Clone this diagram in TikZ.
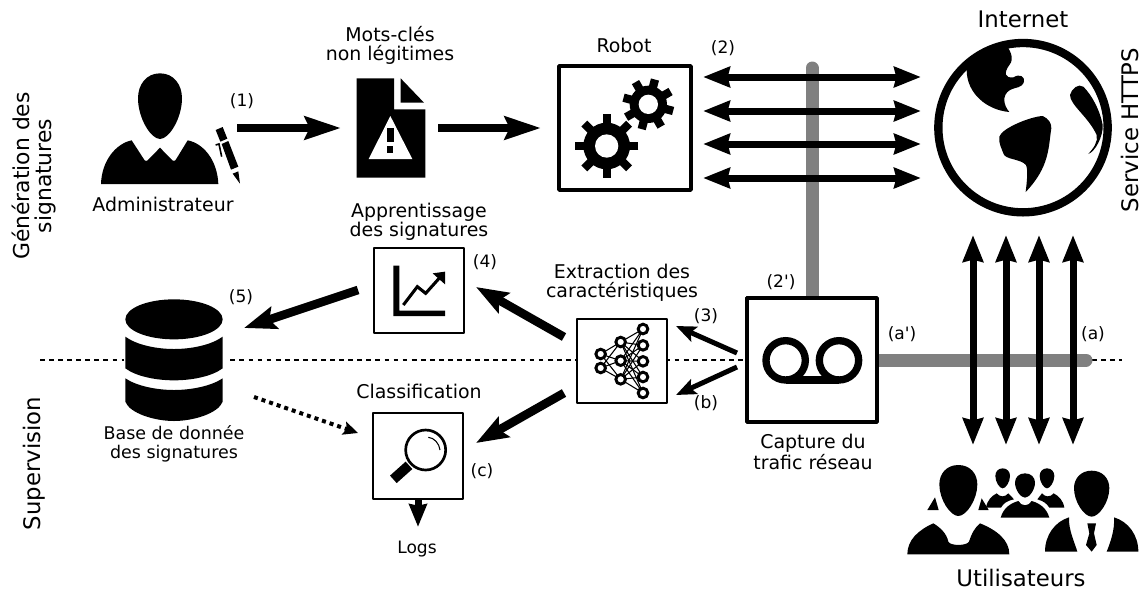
\documentclass[tikz,border=0pt]{standalone}
\usepackage{fontspec}
\setmainfont{DejaVu Sans}
\newfontfamily\plainfont{DejaVu Sans}
\usetikzlibrary{arrows.meta}
\definecolor{greyline}{RGB}{128,128,128}
\newcommand{\eggshape}[4]{%
  ({#1},{#2}) .. controls ({#1+.62*#4},{#2}) and ({#1+#4},{#2+.17*(#3-#2)}) .. ({#1+#4},{#2+.38*(#3-#2)})
  .. controls ({#1+#4},{#2+.68*(#3-#2)}) and ({#1+.42*#4},{#3}) .. ({#1},{#3})
  .. controls ({#1-.42*#4},{#3}) and ({#1-#4},{#2+.68*(#3-#2)}) .. ({#1-#4},{#2+.38*(#3-#2)})
  .. controls ({#1-#4},{#2+.17*(#3-#2)}) and ({#1-.62*#4},{#2}) .. ({#1},{#2}) -- cycle}
\newcommand{\geartool}[7]{%
  \foreach \a in {0,45,90,135}{%
    \draw[line width=#6*.25pt] ({#1+#3*cos(\a+#7)},{#2+#3*sin(\a+#7)}) -- ({#1-#3*cos(\a+#7)},{#2-#3*sin(\a+#7)});}
  \fill (#1,#2) circle[radius=#4*.25pt];
  \fill[white] (#1,#2) circle[radius=#5*.25pt];}
\tikzset{
  txt/.style={font=\fontsize{14.2}{14.2}\selectfont,align=center,inner sep=0pt},
  sml/.style={font=\fontsize{13.1}{14.6}\selectfont,align=center,inner sep=0pt},
  lab/.style={font=\plainfont\fontsize{12.8}{14}\selectfont,inner sep=0pt},
  bigt/.style={font=\fontsize{17.1}{19.5}\selectfont,align=center,inner sep=0pt},
  gent/.style={font=\fontsize{16.4}{16.5}\selectfont,align=center,inner sep=0pt},
  boxa/.style={draw=black,fill=white,line width=2.6pt,line join=round,inner sep=0pt},
  boxb/.style={draw=black,fill=white,line width=1.9pt,line join=round,inner sep=0pt},
  greypipe/.style={draw=greyline,line width=9.75pt},
  thickarrow/.style={line width=6.5pt,-{Stealth[length=27pt,width=17pt,inset=3.5pt]}},
  diagarrow/.style={line width=6.5pt,-{Stealth[length=24pt,width=17pt,inset=4pt]}},
  twoway/.style={line width=5.25pt,{Stealth[length=20pt,width=15pt,inset=1.5pt]}-{Stealth[length=20pt,width=15pt,inset=1.5pt]}},
  thinarrow/.style={line width=3.75pt,-{Stealth[length=15pt,width=12pt,inset=3pt]}},
  dottedarrow/.style={line width=3pt,dash pattern=on 3pt off 3pt,-{Stealth[length=11pt,width=10pt,inset=2pt]}},
  logsarrow/.style={line width=5.25pt,-{Stealth[length=17pt,width=13pt,inset=1pt]}},
  icon/.style={x=.25pt,y=-.25pt},
}
\begin{document}
\begin{tikzpicture}[x=.75pt,y=-.75pt]
\useasboundingbox (0,0) rectangle (1143,590);
\fill[white] (0,0) rectangle (1143,590);
% named connector ends
\coordinate (dashL) at (40,360);
\coordinate (dashR) at (1122,360);
\coordinate (vTop) at (812,68);
\coordinate (hEnd) at (1086,360);
\coordinate (a1s) at (237,128); \coordinate (a1e) at (341,128);
\coordinate (a2s) at (438,128); \coordinate (a2e) at (541,128);
\coordinate (a4s) at (564,337); \coordinate (a4e) at (476,287);
\coordinate (acs) at (564,393); \coordinate (ace) at (476,443);
\coordinate (a3s) at (737,353); \coordinate (a3e) at (676,326);
\coordinate (abs) at (737,367); \coordinate (abe) at (676,395);
\coordinate (a5s) at (358,290); \coordinate (a5e) at (244,328);
\coordinate (ads) at (254,397); \coordinate (ade) at (358,433);
\coordinate (lge) at (418,527);
% dashed separator
\draw[line width=1.5pt,dash pattern=on 3.6pt off 3.2pt] (dashL) -- (dashR);
\fill[white] (124,340) rectangle (226,400);
% grey pipes
\node[boxa,minimum width=97.5pt,minimum height=93pt] (capture) at (812,360) {};
\draw[greypipe,line cap=round] (vTop) -- (capture.north);
\draw[greypipe,line cap=round] (hEnd) -- (capture.east);
\node[boxa,minimum width=97.5pt,minimum height=93pt] (capture) at (812,360) {};
% boxes
\node[boxa,minimum width=99pt,minimum height=93pt] (robot) at (625,128) {};
\node[boxb,minimum width=67.5pt,minimum height=63pt] (extract) at (622,361) {};
\node[boxb,minimum width=67.5pt,minimum height=63.75pt] (chart) at (419,290.5) {};
\node[boxb,minimum width=67.5pt,minimum height=64.5pt] (magnify) at (418,456) {};
% admin
\begin{scope}[shift={(80,60)},icon]
\fill \eggshape{240}{40}{237}{66};
\fill (63,372) .. controls (65,300) and (110,250) .. (155,241) -- (190,295) .. controls (195,305) and (200,305) .. (207,297) -- (240,263) -- (273,297) .. controls (280,305) and (285,305) .. (290,295) -- (323,241) .. controls (370,250) and (412,300) .. (415,372) -- cycle;
\fill (407,210) -- (428,201) -- (442,236) -- (421,245) -- cycle;
\fill (425,252) -- (445,243) -- (475,320) -- (453,329) -- cycle;
\fill (458,341) -- (475,334) -- (480,371) -- cycle;
\draw[line width=1.2pt] (407,255) -- (417,252) -- (425,290);
% doc
\fill (830,55) -- (942,55) -- (942,148) -- (1036,148) -- (1036,353) -- (830,353) -- cycle;
\fill (962,55) -- (1032,128) -- (962,128) -- cycle;
\fill[white] (931,168) -- (997,297) -- (866,297) -- cycle;
\fill (921,204) rectangle (942,245);
\fill (921,258) rectangle (940,278);
\end{scope}
% gears
\begin{scope}[shift={(540,0)},icon]
\geartool{200}{438}{95}{70}{35}{25}{0}
\geartool{325}{313}{77}{56}{29}{25}{15}
\end{scope}
% globe
\begin{scope}[shift={(920,20)},icon]
\begin{scope}
\clip (309,323) circle[radius=63.5pt];
\fill (250,60) .. controls (270,90) and (285,115) .. (268,135) .. controls (250,160) and (255,175) .. (280,172) .. controls (300,160) and (315,170) .. (312,185) .. controls (305,205) and (290,200) .. (270,210) .. controls (245,225) and (250,255) .. (268,276) .. controls (200,270) and (140,220) .. (140,150) -- (100,60) -- cycle;
\end{scope}
\fill (238,350) .. controls (245,325) and (330,290) .. (368,288) .. controls (385,295) and (395,310) .. (394,325) .. controls (385,380) and (390,440) .. (317,516) .. controls (320,490) and (325,450) .. (318,435) .. controls (300,415) and (255,420) .. (250,400) .. controls (245,385) and (235,370) .. (238,350) -- cycle;
\fill (450,225) .. controls (455,205) and (475,190) .. (490,200) .. controls (515,225) and (540,270) .. (548,315) .. controls (550,350) and (525,395) .. (505,402) .. controls (520,385) and (535,365) .. (530,345) .. controls (505,290) and (450,255) .. (450,225) -- cycle;
\draw[line width=6.25pt] (309,323) circle[radius=63.5pt];
\end{scope}
% chart
\begin{scope}[shift={(360,240)},icon]
\fill (100,77) -- (118,77) -- (118,212) -- (255,212) -- (255,228) -- (100,228) -- cycle;
\draw[line width=2.3pt,line join=miter] (130,195) -- (172,140) -- (197,160) -- (240,112);
\fill (255,95) -- (218,100) -- (255,133) -- cycle;
% neural network
\foreach \ia/\ya in {722/342,722/384}{
  \foreach \ib/\yb in {782/306,782/362,782/418}{
    \draw[line width=.8pt] (\ia,\ya) -- (\ib,\yb);}}
\foreach \ib/\yb in {782/306,782/362,782/418}{
  \foreach \ic/\yc in {849/267,849/316,849/364,849/411,849/459}{
    \draw[line width=.8pt] (\ib,\yb) -- (\ic,\yc);}}
\foreach \ix/\yx in {722/342,722/384,782/306,782/362,782/418,849/267,849/316,849/364,849/411,849/459}{
  \draw[line width=2.2pt,fill=white] (\ix,\yx) circle[radius=3.6pt];}
\end{scope}
% tape
\begin{scope}[shift={(720,230)},icon]
\draw[line width=5.5pt] (197,391) circle[radius=14.75pt];
\draw[line width=5.5pt] (357,391) circle[radius=14.75pt];
\draw[line width=5.5pt] (197,450) -- (357,450);
\end{scope}
% magnifier
\begin{scope}[shift={(360,400)},icon]
\draw[line width=2pt] (197,150) circle[radius=15pt];
\draw[line width=.8pt] (205,112) .. controls (222,113) and (238,130) .. (240,150);
\draw[line width=7.5pt] (147,196) -- (100,238);
\end{scope}
% database
\begin{scope}[shift={(90,280)},icon]
\fill (252,118) ellipse[x radius=36.5pt,y radius=15pt];
\fill (106,170) .. controls (140,195) and (200,207) .. (252,207) .. controls (304,207) and (364,195) .. (398,170) -- (398,265) .. controls (364,290) and (304,301) .. (252,301) .. controls (200,301) and (140,290) .. (106,265) -- cycle;
\fill (106,295) .. controls (140,318) and (200,330) .. (252,330) .. controls (304,330) and (364,318) .. (398,295) -- (398,365) .. controls (385,400) and (310,423) .. (252,423) .. controls (194,423) and (119,400) .. (106,365) -- cycle;
\end{scope}
% users
\begin{scope}[shift={(890,440)},icon]
\fill \eggshape{205}{75}{228}{57};
\fill (112,210) -- (135,172) -- (146,210) -- cycle;
\fill (265,210) -- (275,175) -- (296,210) -- cycle;
\fill (52,343) .. controls (52,300) and (85,270) .. (130,250) .. controls (150,262) and (170,280) .. (175,305) .. controls (180,318) and (230,318) .. (237,305) .. controls (245,280) and (255,262) .. (270,250) .. controls (320,270) and (358,300) .. (358,343) -- cycle;
\fill \eggshape{605}{92}{230}{53};
\fill (465,335) .. controls (465,285) and (495,245) .. (537,232) .. controls (535,270) and (555,310) .. (562,335) -- cycle;
\fill (650,335) .. controls (660,310) and (675,270) .. (672,232) .. controls (715,245) and (745,285) .. (745,335) -- cycle;
\fill (592,250) -- (618,250) -- (612,280) -- (620,315) -- (605,335) -- (588,315) -- (598,280) -- cycle;
\fill \eggshape{405}{100}{173}{30};
\fill \eggshape{338}{85}{145}{22};
\fill \eggshape{471}{85}{145}{22};
\fill (332,233) .. controls (340,205) and (360,190) .. (385,183) .. controls (395,200) and (415,200) .. (425,183) .. controls (450,190) and (470,205) .. (478,233) -- cycle;
\fill (288,203) .. controls (292,180) and (305,168) .. (320,160) .. controls (330,172) and (345,172) .. (355,160) -- (372,178) .. controls (350,183) and (340,190) .. (333,203) -- cycle;
\fill (523,203) .. controls (519,180) and (506,168) .. (491,160) .. controls (481,172) and (466,172) .. (456,160) -- (442,178) .. controls (460,183) and (470,190) .. (478,203) -- cycle;
\end{scope}
% arrows
\draw[thickarrow] (a1s) -- (a1e);
\draw[thickarrow] (a2s) -- (a2e);
\foreach \yy/\nn in {77/a,111/b,144/c,178/d}{
  \coordinate (hl\nn) at (703,\yy); \coordinate (hr\nn) at (921,\yy);
  \draw[twoway] (hl\nn) -- (hr\nn);}
\foreach \xx/\nn in {973/a,1006/b,1039/c,1073/d}{
  \coordinate (vt\nn) at (\xx,235); \coordinate (vb\nn) at (\xx,445);
  \draw[twoway] (vt\nn) -- (vb\nn);}
\draw[diagarrow] (a4s) -- (a4e);
\draw[diagarrow] (acs) -- (ace);
\draw[diagarrow] (a5s) -- (a5e);
\draw[thinarrow] (a3s) -- (a3e);
\draw[thinarrow] (abs) -- (abe);
\draw[dottedarrow] (ads) -- (ade);
\draw[logsarrow] (magnify.south) -- (lge);
% texts
\node[txt] (tmots) at (390,45) {Mots-clés\\non légitimes};
\node[txt] (trobot) at (624,45) {Robot};
\node[lab] (l1) at (242,101) {(1)};
\node[lab] (l2) at (723,48) {(2)};
\node[bigt] (tinternet) at (1023,19) {Internet};
\node[bigt,rotate=90] (thttps) at (1130,130) {Service HTTPS};
\node[gent,rotate=90] (tgen) at (34,176) {Génération des\\signatures};
\node[bigt,rotate=90] (tsup) at (34,463.5) {Supervision};
\node[txt] (tadmin) at (163,204) {Administrateur};
\node[txt] (tappr) at (419,222) {Apprentissage\\des signatures};
\node[lab] (l4) at (485,262) {(4)};
\node[txt] (textr) at (622,283) {Extraction des\\caractéristiques};
\node[lab] (l3) at (706,316) {(3)};
\node[lab] (lb) at (706,403) {(b)};
\node[lab] (lc) at (482,471) {(c)};
\node[lab] (l2p) at (781,282) {(2')};
\node[lab] (lap) at (902,334) {(a')};
\node[lab] (la) at (1093,334) {(a)};
\node[lab] (l5) at (241,297) {(5)};
\node[txt] (tclass) at (419,391) {Classification};
\node[sml] (tbase) at (174,444) {Base de donnée\\des signatures};
\node[txt] (tcap) at (813,452) {Capture du\\trafic réseau};
\node[lab] (tlogs) at (417,549) {Logs};
\node[bigt] (tusers) at (1021,578) {Utilisateurs};
\end{tikzpicture}
\end{document}
